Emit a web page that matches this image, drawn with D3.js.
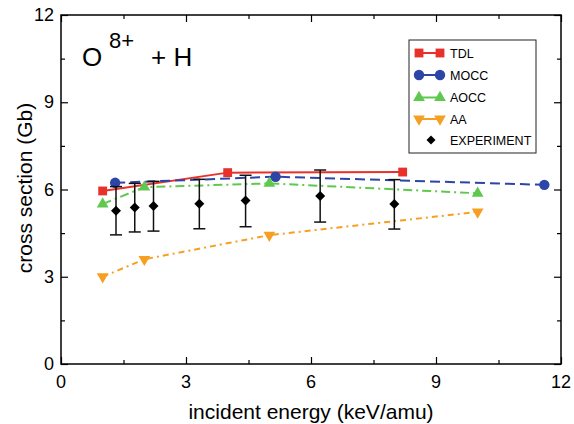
<!DOCTYPE html>
<meta charset="utf-8">
<script src="https://d3js.org/d3.v7.min.js"></script>
<style type="text/css">
    body {
        margin: 0;
        padding: 0;
        background: #FFF;
    }

    svg {
        font-family: Arial, "Liberation Sans", sans-serif;
    }

    .frame {
        fill: none;
        stroke: #000;
        stroke-width: 1.5;
    }

    .tick line {
        stroke: #000;
        stroke-width: 1.2;
    }

    .ticklabel {
        font-size: 18px;
        fill: #000;
    }

    .axislabel {
        font-size: 21px;
        fill: #000;
    }
</style>

<body>
</body>

<script>

// theory curves and experiment, cross section in Gb vs energy in keV/amu
var tdlE = [1.0, 4.0, 8.2];
var tdlS = [5.95, 6.58, 6.6];

var moccE = [1.3, 5.15, 11.6];
var moccS = [6.23, 6.44, 6.16];

var aoccE = [1.0, 2.0, 5.0, 10.0];
var aoccS = [5.5, 6.08, 6.21, 5.87];

var aaE = [1.0, 2.0, 5.0, 10.0];
var aaS = [3.0, 3.6, 4.43, 5.23];

var expE = [1.32, 1.77, 2.22, 3.32, 4.43, 6.22, 8.0];
var expS = [5.27, 5.38, 5.43, 5.51, 5.62, 5.78, 5.5];
var expLo = [4.44, 4.54, 4.57, 4.65, 4.72, 4.88, 4.64];
var expHi = [6.10, 6.21, 6.28, 6.35, 6.49, 6.67, 6.34];

var xMajor = [0, 3, 6, 9, 12];
var xMinor = [1.5, 4.5, 7.5, 10.5];
var yMajor = [0, 3, 6, 9, 12];
var yMinor = [1.5, 4.5, 7.5, 10.5];

var legendNames = ["TDL", "MOCC", "AOCC", "AA", "EXPERIMENT"];

var W = 574, H = 424;
var margin = {left: 61, top: 15, right: 13, bottom: 60};
var width = W - margin.left - margin.right;
var height = H - margin.top - margin.bottom;

var x = d3.scaleLinear().domain([0, 12]).range([0, width]);
var y = d3.scaleLinear().domain([0, 12]).range([height, 0]);

var svg = d3.select("body")
    .append("svg")
    .attr("width", W)
    .attr("height", H);

var g = svg.append("g")
    .attr("transform", "translate(" + margin.left + "," + margin.top + ")");

// axes on all four sides, ticks pointing in
function addAxis(axis, tr) {
    var a = g.append("g").attr("transform", tr).call(axis);
    a.select(".domain").remove();
    a.selectAll("text").remove();
    return a;
}
addAxis(d3.axisBottom(x).tickValues(xMajor).tickSize(-7), "translate(0," + height + ")");
addAxis(d3.axisBottom(x).tickValues(xMinor).tickSize(-4), "translate(0," + height + ")");
addAxis(d3.axisTop(x).tickValues(xMajor).tickSize(-7), "");
addAxis(d3.axisTop(x).tickValues(xMinor).tickSize(-4), "");
addAxis(d3.axisLeft(y).tickValues(yMajor).tickSize(-7), "");
addAxis(d3.axisLeft(y).tickValues(yMinor).tickSize(-4), "");
addAxis(d3.axisRight(y).tickValues(yMajor).tickSize(-7), "translate(" + width + ",0)");
addAxis(d3.axisRight(y).tickValues(yMinor).tickSize(-4), "translate(" + width + ",0)");

g.append("rect")
    .attr("class", "frame")
    .attr("width", width)
    .attr("height", height);

g.selectAll(".xlab")
    .data(xMajor)
    .enter().append("text")
    .attr("class", "ticklabel")
    .attr("x", function (d) { return x(d); })
    .attr("y", height + 24)
    .attr("text-anchor", "middle")
    .text(function (d) { return d; });

g.selectAll(".ylab")
    .data(yMajor)
    .enter().append("text")
    .attr("class", "ticklabel")
    .attr("x", -7)
    .attr("y", function (d) { return y(d) + 6; })
    .attr("text-anchor", "end")
    .text(function (d) { return d; });

svg.append("text")
    .attr("class", "axislabel")
    .attr("x", margin.left + width / 2)
    .attr("y", 419)
    .attr("text-anchor", "middle")
    .text("incident energy (keV/amu)");

svg.append("text")
    .attr("class", "axislabel")
    .attr("transform", "translate(32,188) rotate(-90)")
    .attr("text-anchor", "middle")
    .text("cross section (Gb)");

// title O^8+ + H
var title = g.append("text").attr("x", 21).attr("y", 51).style("fill", "#000");
title.append("tspan").style("font-size", "26px").text("O");
title.append("tspan").attr("x", 48).attr("y", 33).style("font-size", "22px").text("8+");
title.append("tspan").attr("x", 90).attr("y", 51).style("font-size", "26px").text("+ H");

var series = [
    {name: "TDL", e: tdlE, s: tdlS, color: "#e8312b", dash: null, sym: d3.symbolSquare, size: 78, rot: 0},
    {name: "MOCC", e: moccE, s: moccS, color: "#2c45a6", dash: "10,5", sym: d3.symbolCircle, size: 85, rot: 0},
    {name: "AOCC", e: aoccE, s: aoccS, color: "#5ec94e", dash: "9,4,2,4", sym: d3.symbolTriangle, size: 60, rot: 0},
    {name: "AA", e: aaE, s: aaS, color: "#f6a023", dash: "6,4,2,4", sym: d3.symbolTriangle, size: 60, rot: 180}
];

var line = d3.line()
    .x(function (d) { return x(d[0]); })
    .y(function (d) { return y(d[1]); });

series.forEach(function (sr) {
    var pts = d3.zip(sr.e, sr.s);
    g.append("path")
        .attr("d", line(pts))
        .style("fill", "none")
        .style("stroke", sr.color)
        .style("stroke-width", 2)
        .style("stroke-dasharray", sr.dash);
    g.selectAll(null)
        .data(pts)
        .enter().append("path")
        .attr("d", d3.symbol().type(sr.sym).size(sr.size))
        .attr("transform", function (d) {
            return "translate(" + x(d[0]) + "," + y(d[1]) + ") rotate(" + sr.rot + ")";
        })
        .style("fill", sr.color);
});

// experiment with error bars
var exp = expE.map(function (e, i) {
    return {e: e, s: expS[i], lo: expLo[i], hi: expHi[i]};
});

var eb = g.selectAll(".eb").data(exp).enter().append("g")
    .style("stroke", "#111")
    .style("stroke-width", 1.5);
eb.append("line")
    .attr("x1", function (d) { return x(d.e); })
    .attr("x2", function (d) { return x(d.e); })
    .attr("y1", function (d) { return y(d.lo); })
    .attr("y2", function (d) { return y(d.hi); });
eb.append("line")
    .attr("x1", function (d) { return x(d.e) - 6; })
    .attr("x2", function (d) { return x(d.e) + 6; })
    .attr("y1", function (d) { return y(d.lo); })
    .attr("y2", function (d) { return y(d.lo); });
eb.append("line")
    .attr("x1", function (d) { return x(d.e) - 6; })
    .attr("x2", function (d) { return x(d.e) + 6; })
    .attr("y1", function (d) { return y(d.hi); })
    .attr("y2", function (d) { return y(d.hi); });

g.selectAll(".dia").data(exp).enter().append("path")
    .attr("d", d3.symbol().type(d3.symbolSquare).size(50))
    .attr("transform", function (d) {
        return "translate(" + x(d.e) + "," + y(d.s) + ") rotate(45)";
    })
    .style("fill", "#000");

// legend
var leg = svg.append("g").attr("transform", "translate(409,40)");
leg.append("rect")
    .attr("width", 127)
    .attr("height", 113)
    .style("fill", "#FFF")
    .style("stroke", "#222")
    .style("stroke-width", 1);

var legRows = [13, 35, 57.5, 79, 100];
legendNames.forEach(function (name, i) {
    var row = leg.append("g").attr("transform", "translate(0," + legRows[i] + ")");
    var sr = series[i];
    if (sr) {
        row.append("line")
            .attr("x1", 10).attr("x2", 31)
            .style("stroke", sr.color)
            .style("stroke-width", 2);
        [10, 31].forEach(function (px) {
            row.append("path")
                .attr("d", d3.symbol().type(sr.sym).size(sr.size))
                .attr("transform", "translate(" + px + ",0) rotate(" + sr.rot + ")")
                .style("fill", sr.color);
        });
    } else {
        row.append("path")
            .attr("d", d3.symbol().type(d3.symbolSquare).size(40))
            .attr("transform", "translate(22,0) rotate(45)")
            .style("fill", "#000");
    }
    row.append("text")
        .attr("x", 41)
        .attr("y", 4.5)
        .style("font-size", "12.5px")
        .text(name);
});

</script>
